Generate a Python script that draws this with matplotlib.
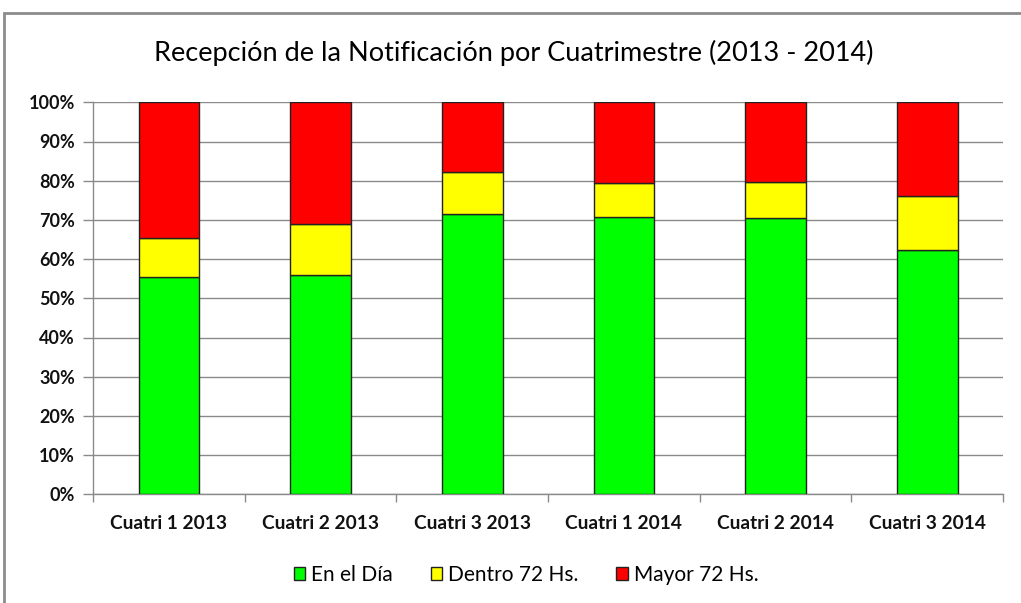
import matplotlib
matplotlib.use("Agg")
import matplotlib.pyplot as plt
from matplotlib.patches import Rectangle
from matplotlib.ticker import FixedLocator, FuncFormatter
import numpy as np

categories = ["Cuatri 1 2013", "Cuatri 2 2013", "Cuatri 3 2013",
              "Cuatri 1 2014", "Cuatri 2 2014", "Cuatri 3 2014"]
en_el_dia = [55.5, 55.9, 71.6, 70.7, 70.6, 62.4]
dentro_72 = [9.8, 13.0, 10.7, 8.8, 9.1, 13.8]
mayor_72 = [100 - a - b for a, b in zip(en_el_dia, dentro_72)]
series_names = ["En el Día", "Dentro 72 Hs.", "Mayor 72 Hs."]
colors = ["#00FF00", "#FFFF00", "#FF0000"]
yticks = list(range(0, 101, 10))

plt.rcParams['font.family'] = ['Lato', 'DejaVu Sans']

fig = plt.figure(figsize=(10.21, 6.03), dpi=100)
W, H = 1021, 603
ax = fig.add_axes([93 / W, (H - 494.3) / H, (1003 - 93) / W, (494.3 - 102.3) / H])

x = np.arange(len(categories))
bottoms = np.zeros(len(categories))
handles = []
for vals, name, c in zip([en_el_dia, dentro_72, mayor_72], series_names, colors):
    b = ax.bar(x, vals, bottom=bottoms, width=0.4, color=c, edgecolor="#222222",
               linewidth=1.0, label=name, zorder=3)
    handles.append(b)
    bottoms += np.array(vals)

ax.set_xlim(-0.5, len(categories) - 0.5)
ax.set_ylim(0, 100)
ax.set_yticks(yticks)
ax.yaxis.set_major_formatter(FuncFormatter(lambda v, p: f"{int(v)}%"))
ax.grid(axis="y", color="#8a8a8a", linewidth=1.0, zorder=0)
ax.set_axisbelow(True)

ax.set_xticks(x)
ax.set_xticklabels(categories)
ax.xaxis.set_minor_locator(FixedLocator(np.arange(-0.5, len(categories), 1.0)))
ax.tick_params(axis="x", which="major", length=0, pad=15, labelsize=13.8)
ax.tick_params(axis="x", which="minor", length=6, color="#8a8a8a", width=1)
ax.tick_params(axis="y", length=7, color="#8a8a8a", width=1, pad=6, labelsize=13)
for lab in ax.get_xticklabels() + ax.get_yticklabels():
    lab.set_fontweight("bold")
    lab.set_color("#111111")

for s in ["top", "right"]:
    ax.spines[s].set_visible(False)
for s in ["left", "bottom"]:
    ax.spines[s].set_color("#8a8a8a")
    ax.spines[s].set_linewidth(1.0)

fig.text(514 / W, 1 - 53 / H, "Recepción de la Notificación por Cuatrimestre (2013 - 2014)",
         ha="center", va="center", fontsize=19.5, color="#000000")

leg = fig.legend(handles=handles, labels=series_names, loc="center",
                 bbox_to_anchor=(526 / W, 1 - 575 / H), ncol=3, frameon=False,
                 fontsize=15, handlelength=0.55, handleheight=0.55,
                 handletextpad=0.3, columnspacing=1.8)

fig.add_artist(Rectangle((4 / W, -0.05), 1.1, (H - 13) / H + 0.05, transform=fig.transFigure,
                         fill=False, edgecolor="#8c8c8c", linewidth=2))

fig.savefig("out.png", dpi=100)
